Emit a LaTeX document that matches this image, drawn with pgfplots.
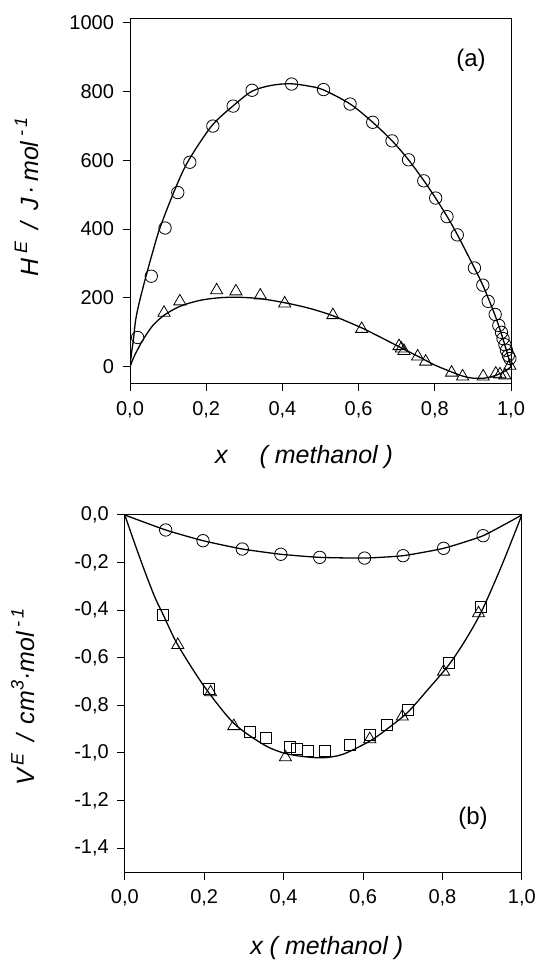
\documentclass[border=0pt]{standalone}
\usepackage{fontspec}
\setmainfont{Liberation Sans}
\usepackage{pgfplots}
\pgfplotsset{compat=1.18}
\newcommand{\sups}[1]{\raisebox{0.45em}{\fontsize{18}{20}\selectfont #1}}
\begin{document}
\begin{tikzpicture}
\path[use as bounding box] (0pt,0pt) rectangle (538pt,961pt);
\pgfplotsset{
  common/.style={
    scale only axis,
    axis line style={line width=1pt},
    every tick/.style={black, line width=1pt},
    tick align=outside,
    major tick length=7.5pt,
    tick pos=left,
    /pgf/number format/assume math mode=true,
    /pgf/number format/1000 sep={},
    tick label style={font=\fontsize{20}{24}\selectfont},
    x tick label style={yshift=-7pt},
    y tick label style={xshift=-5pt},
    label style={font=\fontsize{25}{30}\selectfont\itshape},
    xmin=0, xmax=1,
    xtick={0,0.2,0.4,0.6,0.8,1},
    xticklabels={{0,0},{0,2},{0,4},{0,6},{0,8},{1,0}},
  },
  fitline/.style={black, line width=1.3pt, smooth, no markers},
  circ/.style={only marks, mark=o, mark size=6.2pt, mark options={black, line width=0.8pt, fill=white}},
  tri/.style={only marks, mark=triangle, mark size=7pt, mark options={black, line width=0.8pt, fill=white}},
  sq/.style={only marks, mark=square, mark size=5.5pt, mark options={black, line width=0.8pt, fill=white}},
}
% ---------- (a) ----------
\begin{axis}[common,
  at={(130pt,577pt)}, anchor=south west,
  width=381pt, height=365pt,
  ymin=-50, ymax=1010,
  ytick={0,200,400,600,800,1000},
  xlabel={x\quad\ ( methanol )},
  xlabel style={at={(axis description cs:0.457,-0.199)}, anchor=center},
  ylabel={H\,\sups{E}\hspace{12pt}/\hspace{12pt}J\,·\,mol\hspace{5pt}\sups{-\,1}},
  ylabel style={at={(axis description cs:-0.271,0.513)}, anchor=center},
]
\addplot[fitline] coordinates {
(0,0) (0.004,40) (0.009,79) (0.015,137) (0.025,190) (0.042,263) (0.06,335) (0.0785,403) (0.1146,506) (0.151,594) (0.214,699) (0.27,757) (0.32,800) (0.37,817) (0.42,822) (0.47,815) (0.508,804) (0.578,763) (0.637,710) (0.688,656) (0.731,601) (0.771,541) (0.802,490) (0.832,437) (0.859,384) (0.904,287) (0.926,237) (0.94,200) (0.958,150) (0.975,95) (0.99,40) (1,0)
};
\addplot[fitline] coordinates {
(0,0) (0.01,28) (0.02,50) (0.035,80) (0.06,120) (0.09,150) (0.13,175) (0.18,192) (0.23,200) (0.28,202) (0.34,198) (0.406,186) (0.47,170) (0.533,148) (0.608,113) (0.65,90) (0.712,55) (0.76,28) (0.8,5) (0.844,-15) (0.873,-27) (0.9,-33) (0.93,-33) (0.96,-25) (0.985,-12) (1,0)
};
\addplot[circ] coordinates {
(0.020,85) (0.0559,263) (0.092,403) (0.1254,506) (0.157,594) (0.2175,699) (0.2707,757) (0.3204,803) (0.4242,821) (0.508,805) (0.5776,763) (0.637,710) (0.6877,656) (0.731,601) (0.771,540) (0.8023,490) (0.832,436) (0.859,383) (0.904,287) (0.926,237) (0.940,190) (0.9585,152) (0.968,120) (0.975,100) (0.979,82) (0.984,64) (0.988,48) (0.993,33) (0.997,24)
};
\addplot[tri] coordinates {
(0.0893,157) (0.1308,190) (0.2274,222) (0.278,219) (0.342,207) (0.406,184) (0.5325,150) (0.608,110) (0.706,60) (0.712,53) (0.719,46) (0.755,30) (0.776,15) (0.844,-17) (0.873,-28) (0.927,-28) (0.960,-20) (0.971,-22) (0.984,-25) (0.997,3)
};
\node[font=\fontsize{24}{28}\selectfont] at (rel axis cs:0.895,0.888) {(a)};
\end{axis}
% ---------- (b) ----------
\begin{axis}[common,
  at={(124.8pt,89pt)}, anchor=south west,
  width=397pt, height=357pt,
  ymin=-1.5, ymax=0,
  ytick={0,-0.2,-0.4,-0.6,-0.8,-1,-1.2,-1.4},
  yticklabels={{0,0},{-0,2},{-0,4},{-0,6},{-0,8},{-1,0},{-1,2},{-1,4}},
  xlabel={x ( methanol )},
  xlabel style={at={(axis description cs:0.5086,-0.213)}, anchor=center},
  ylabel={V\,\sups{E}\hspace{12pt}/\hspace{10pt}cm\sups{3}·mol\hspace{5pt}\sups{-\,1}},
  ylabel style={at={(axis description cs:-0.256,0.49)}, anchor=center},
]
\addplot[black, line width=1.3pt, smooth, tension=0.3, no markers] coordinates {
(0,0) (0.103,-0.063) (0.197,-0.108) (0.296,-0.143) (0.393,-0.165) (0.491,-0.178) (0.604,-0.181) (0.701,-0.171) (0.803,-0.140) (0.9026,-0.087) (1,0)
};
\addplot[fitline] coordinates {
(0,0) (0.025,-0.12) (0.05,-0.235) (0.0756,-0.345) (0.097,-0.42) (0.1335,-0.546) (0.2,-0.72) (0.2746,-0.875) (0.35,-0.965) (0.4,-1.0) (0.45,-1.015) (0.5,-1.02) (0.55,-1.005) (0.617,-0.95) (0.66,-0.9) (0.712,-0.83) (0.76,-0.74) (0.816,-0.63) (0.86,-0.52) (0.9,-0.4) (0.95,-0.21) (1,0)
};
\addplot[circ] coordinates {
(0.103,-0.063) (0.197,-0.108) (0.296,-0.143) (0.393,-0.165) (0.491,-0.178) (0.604,-0.181) (0.701,-0.171) (0.803,-0.140) (0.9026,-0.087)
};
\addplot[tri] coordinates {
(0.1335,-0.546) (0.216,-0.745) (0.2746,-0.887) (0.4046,-1.018) (0.617,-0.942) (0.699,-0.847) (0.803,-0.658) (0.891,-0.413)
};
\addplot[sq] coordinates {
(0.097,-0.420) (0.2115,-0.731) (0.316,-0.910) (0.355,-0.936) (0.415,-0.976) (0.433,-0.983) (0.461,-0.990) (0.504,-0.990) (0.5666,-0.966) (0.617,-0.924) (0.660,-0.882) (0.712,-0.819) (0.816,-0.620) (0.8966,-0.385)
};
\node[font=\fontsize{24}{28}\selectfont] at (rel axis cs:0.877,0.150) {(b)};
\end{axis}
\end{tikzpicture}
\end{document}
